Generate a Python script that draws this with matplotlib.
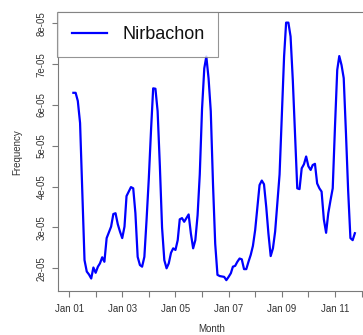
import matplotlib
matplotlib.use("Agg")
import matplotlib.pyplot as plt
import numpy as np
import pandas as pd

plt.rcParams["font.family"] = ["Liberation Sans", "DejaVu Sans"]

# monthly series, Mar 2001 .. Oct 2011 (values in units of 1e-05)
start_month = "2001-03-01"
freq_e5 = [
    6.30, 6.30, 6.10, 5.56, 3.90, 2.20, 1.92, 1.85, 1.75, 2.02,
    1.89, 2.04, 2.12, 2.27, 2.16, 2.74, 2.88, 3.02, 3.33, 3.35,
    3.08, 2.90, 2.74, 3.02, 3.77, 3.88, 3.99, 3.96, 3.35, 2.28,
    2.08, 2.04, 2.28, 3.18, 4.20, 5.40, 6.41, 6.40, 5.85, 4.50,
    3.00, 2.20, 2.00, 2.12, 2.38, 2.49, 2.45, 2.69, 3.20, 3.23,
    3.14, 3.23, 3.32, 2.85, 2.49, 2.69, 3.30, 4.30, 5.90, 6.90,
    7.19, 6.65, 5.85, 4.05, 2.60, 1.84, 1.81, 1.80, 1.79, 1.71,
    1.79, 1.88, 2.04, 2.06, 2.16, 2.24, 2.22, 1.98, 1.98, 2.16,
    2.33, 2.55, 2.94, 3.50, 4.04, 4.15, 4.06, 3.50, 2.85, 2.30,
    2.49, 2.90, 3.60, 4.30, 5.72, 7.19, 8.02, 8.02, 7.68, 6.60,
    5.30, 3.96, 3.94, 4.45, 4.55, 4.74, 4.50, 4.41, 4.53, 4.56,
    4.08, 3.96, 3.88, 3.20, 2.87, 3.35, 3.67, 3.96, 5.47, 6.86,
    7.20, 6.98, 6.66, 5.30, 3.90, 2.74, 2.69, 2.86,
]
tick_years = list(range(2001, 2013))
label_years = [2001, 2003, 2005, 2007, 2009, 2011]

dates = pd.date_range(start_month, periods=len(freq_e5), freq="MS")
freq = np.array(freq_e5) * 1e-5

W, H = 363, 335
fig = plt.figure(figsize=(W / 100, H / 100), dpi=100)
fig.patch.set_facecolor("white")
# right side of the box runs past the image edge, as in the original
ax = fig.add_axes([57.5 / W, 44 / H, 313.3 / W, 279 / H])

ax.plot(dates, freq, color="#0000ff", lw=1.6, label="Nirbachon")

ax.set_xlim(pd.Timestamp("2000-07-26"), pd.Timestamp("2012-05-07"))
ax.set_ylim(1.444e-5, 8.28e-5)

ticks = [pd.Timestamp(f"{y}-01-01") for y in tick_years]
ax.set_xticks(ticks)
ax.set_xticklabels(["Jan %02d" % (y % 100) if y in label_years else "" for y in tick_years])

yt = [2e-5, 3e-5, 4e-5, 5e-5, 6e-5, 7e-5, 8e-5]
ax.set_yticks(yt)
ax.set_yticklabels(["%de-05" % round(v * 1e5) for v in yt])
for lab in ax.get_yticklabels():
    lab.set_rotation(90)
    lab.set_va("center")

grey = "#7a7a7a"
txt = "#333333"
for s in ax.spines.values():
    s.set_color(grey)
    s.set_linewidth(0.8)
ax.tick_params(colors=grey, labelcolor=txt, labelsize=7, length=4, width=0.8)
ax.tick_params(axis="x", pad=5)
ax.tick_params(axis="y", pad=4)

fig.text(212 / W, 1 - 329 / H, "Month", fontsize=7, color=txt, ha="center", va="center")
fig.text(17 / W, 1 - 152 / H, "Frequency", fontsize=7, color=txt, ha="center", va="center",
         rotation=90)

leg = ax.legend(loc="upper left", fontsize=13, frameon=True, fancybox=False,
                borderaxespad=0, borderpad=0.78, handlelength=1.95,
                handletextpad=0.85, labelcolor="#111111")
leg.get_frame().set_edgecolor(grey)
leg.get_frame().set_linewidth(0.8)
leg.get_lines()[0].set_linewidth(1.6)

fig.savefig("out.png", dpi=100, facecolor="white")
plt.close(fig)
